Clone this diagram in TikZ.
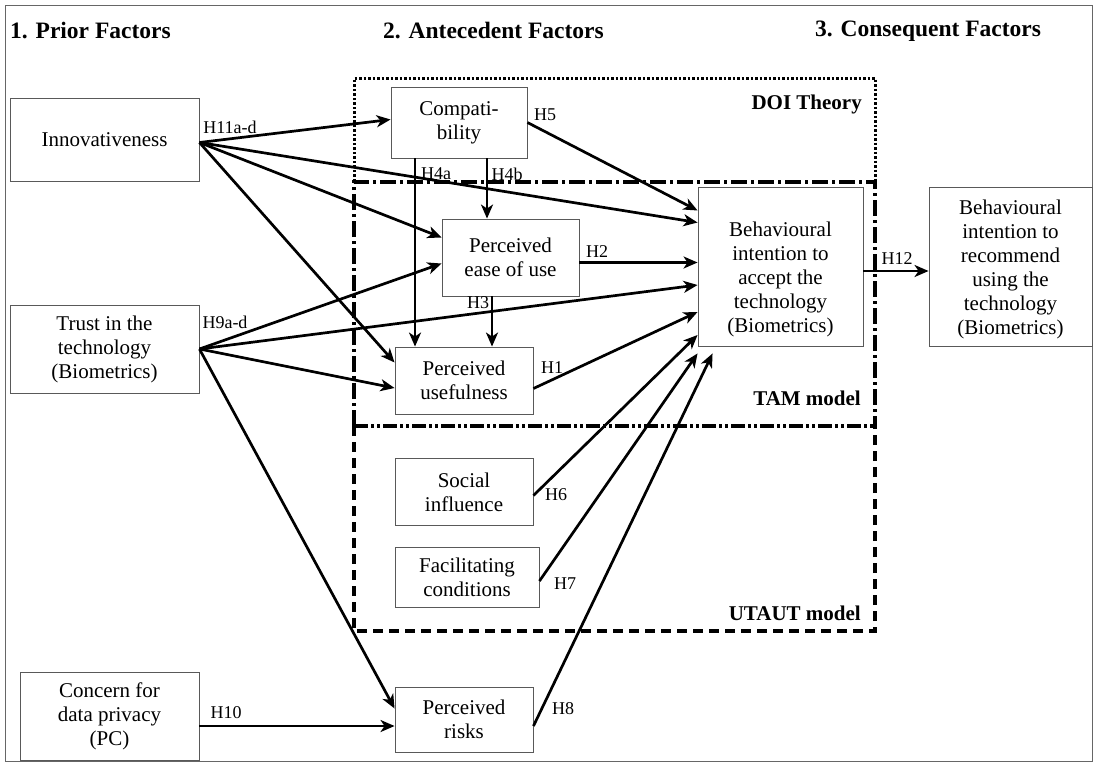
\documentclass[tikz,border=0pt]{standalone}
\usepackage{fontspec}
\setmainfont{Liberation Serif}
\usetikzlibrary{arrows.meta,calc}
\begin{document}
\begin{tikzpicture}[x=1pt,y=-1pt,
  box/.style={draw=black!65, line width=0.9pt, fill=white, inner sep=0pt, align=center, font=\fontsize{21}{24}\selectfont},
  boxtext/.style={inner sep=0pt, align=center, font=\fontsize{21}{24}\selectfont},
  arr/.style={line width=2.7pt, -{Stealth[length=14pt,width=12pt,inset=4pt]}},
  lbl/.style={font=\fontsize{18}{20}\selectfont, inner sep=0pt},
  hdr/.style={font=\fontsize{23.5}{26}\selectfont\bfseries, inner sep=0pt, anchor=west},
  ttl/.style={font=\fontsize{21}{24}\selectfont\bfseries, inner sep=0pt, anchor=east},
  doiline/.style={line width=3pt, dash pattern=on 2.5pt off 2pt},
  tamline/.style={line width=3.2pt, dash pattern=on 16pt off 4pt on 3pt off 4pt},
  divline/.style={line width=3.2pt, dash pattern=on 14pt off 3pt on 3pt off 3pt on 3pt off 3pt},
  utline/.style={line width=3.2pt, dash pattern=on 10pt off 6pt},
  ]
\useasboundingbox (0,0) rectangle (1094,763);
\draw[black!60, line width=0.8pt] (5,5) rectangle (1092,761);

% headers
\node[hdr] (h1) at (10,31) {1. Prior Factors};
\node[hdr] (h2) at (383,31) {2. Antecedent Factors};
\node[hdr] (h3) at (815,31) {3. Consequent Factors};

% regions
\draw[doiline] (354,181) -- (354,78) -- (875,78) -- (875,181);
\draw[tamline] (354,426) -- (354,182) -- (875,182) -- (875,426);
\draw[divline] (354,426) -- (875,426);
\draw[utline] (354,426) -- (354,631) -- (875,631) -- (875,426);
\node[ttl] (tdoi) at (862,104) {DOI Theory};
\node[ttl] (ttam) at (861,398) {TAM model};
\node[ttl] (tut) at (861,613) {UTAUT model};

% boxes
\node[box, minimum width=189pt, minimum height=83pt] (innov) at (104.5,139.5) {Innovativeness};
\node[box, minimum width=189pt, minimum height=88pt] (trust) at (104.5,349) {Trust in the\\technology\\(Biometrics)};
\node[box, minimum width=179pt, minimum height=88pt] (concern) at (109.5,716) {Concern for\\data privacy\\(PC)};
\node[box, minimum width=136pt, minimum height=71pt] (compat) at (459,122.5) {Compati-\\bility};
\node[box, minimum width=137pt, minimum height=77pt] (peou) at (510.5,257.5) {Perceived\\ease of use};
\node[box, minimum width=138pt, minimum height=67pt] (pu) at (464,380.5) {Perceived\\usefulness};
\node[box, minimum width=138pt, minimum height=67pt] (si) at (464,492) {Social\\influence};
\node[box, minimum width=144pt, minimum height=60pt] (fc) at (467,577) {Facilitating\\conditions};
\node[box, minimum width=138pt, minimum height=65pt] (pr) at (464,719.5) {Perceived\\risks};
\node[box, minimum width=165pt, minimum height=159pt] (bi) at (780.5,266.5) {};
\node[boxtext] (bitext) at ([yshift=-13pt]bi.center) {Behavioural\\intention to\\accept the\\technology\\(Biometrics)};
\node[box, minimum width=163pt, minimum height=159pt] (rec) at (1010.5,266.5) {};
\node[boxtext] (rectext) at ([yshift=-3pt]rec.center) {Behavioural\\intention to\\recommend\\using the\\technology\\(Biometrics)};

% H11 from innovativeness
\draw[arr] ([yshift=-3pt]innov.east) -- ([yshift=3pt]compat.west);
\draw[arr] ([yshift=-3pt]innov.east) -- ([yshift=44pt]bi.west);
\draw[arr] ([yshift=-3pt]innov.east) -- ([yshift=20pt]peou.west);
\draw[arr] ([yshift=-3pt]innov.east) -- ([yshift=18pt]pu.west);
% H9 from trust
\draw[arr] (trust.east) -- ([yshift=-6pt]peou.west);
\draw[arr] (trust.east) -- ([yshift=-18.5pt]bi.west);
\draw[arr] (trust.east) -- ([yshift=-7.5pt]pu.west);
\draw[arr] (trust.east) -- ([yshift=11pt]pr.west);
% compat
\draw[arr] ([xshift=-44pt]compat.south) -- ([xshift=-44pt]compat.south |- pu.north);
\draw[arr] ([xshift=28pt]compat.south) -- ([xshift=28pt]compat.south |- peou.north);
\draw[arr] (compat.east) -- ([yshift=56pt]bi.west);
% TAM
\draw[arr] ([xshift=-18.5pt]peou.south) -- ([xshift=-18.5pt]peou.south |- pu.north);
\draw[arr] ([yshift=-5pt]peou.east) -- ([yshift=-5pt]peou.east -| bi.west);
\draw[arr] ([yshift=-8pt]pu.east) -- ([yshift=-45.5pt]bi.west);
% UTAUT
\draw[arr] ([yshift=-3.5pt]si.east) -- ([yshift=-68.5pt]bi.west);
\draw[arr] ([yshift=-4pt]fc.east) -- ([yshift=-7pt]bi.south west);
\draw[arr] ([yshift=-6.5pt]pr.east) -- ([xshift=15pt,yshift=-7pt]bi.south west);
% privacy
\draw[arr] ([yshift=-10pt]concern.east) -- ([yshift=-10pt]concern.east -| pr.west);
% consequent
\draw[arr] ([yshift=-4.5pt]bi.east) -- ([yshift=-4.5pt]bi.east -| rec.west);

% labels
\node[lbl] (l11) at (230,127) {H11a-d};
\node[lbl] (l9) at (225,322) {H9a-d};
\node[lbl] (l4a) at (436,174) {H4a};
\node[lbl] (l4b) at (507,174) {H4b};
\node[lbl] (l5) at (545,115) {H5};
\node[lbl] (l2) at (597,252) {H2};
\node[lbl] (l3) at (478,303) {H3};
\node[lbl] (l1) at (552,368) {H1};
\node[lbl] (l6) at (556,495) {H6};
\node[lbl] (l7) at (565,584) {H7};
\node[lbl] (l8) at (563,709) {H8};
\node[lbl] (l10) at (226,713) {H10};
\node[lbl] (l12) at (897,259) {H12};
\end{tikzpicture}
\end{document}
